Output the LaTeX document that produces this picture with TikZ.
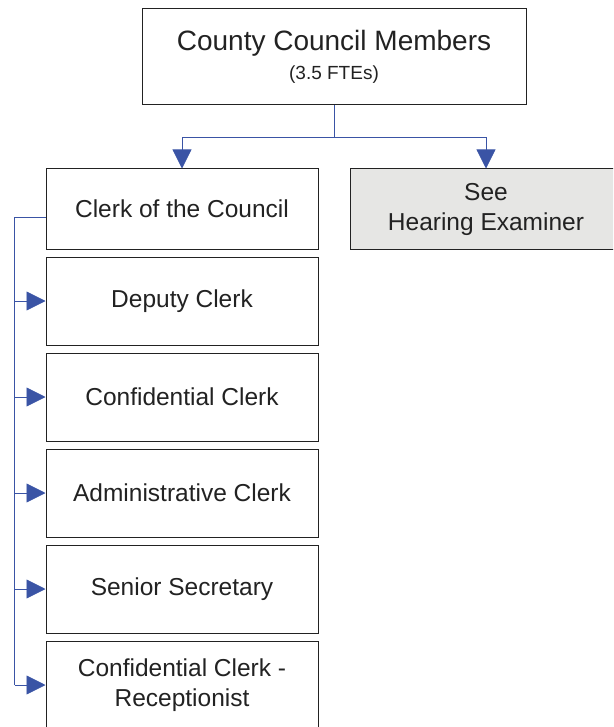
\documentclass[tikz,border=0pt]{standalone}
\usepackage{fontspec}
\setmainfont{Liberation Sans}
\usetikzlibrary{arrows.meta,positioning}
\definecolor{LinkBlue}{HTML}{3A54A5}
\definecolor{PanelGray}{HTML}{E6E6E4}
\definecolor{InkGray}{HTML}{222222}

\begin{document}
\begin{tikzpicture}[
  x=1pt,y=1pt,
  node distance=7pt,
  every node/.style={align=center,text=InkGray,inner sep=0pt},
  box/.style={draw=InkGray,line width=1pt,fill=white,minimum width=272pt,minimum height=88pt,font=\fontsize{24.5}{30}\selectfont},
  headbox/.style={box,minimum width=384pt,minimum height=96pt,font=\fontsize{28}{29}\selectfont},
  link/.style={draw=LinkBlue,line width=0.8pt},
  arr/.style={link,-{Triangle[length=19pt,width=19pt]}}
]
\useasboundingbox (0,0) rectangle (613,-727);
\clip (0,0) rectangle (613,-727);
\node[headbox] (council) at (334,-57) {County Council Members\\{\fontsize{19}{23}\selectfont (3.5 FTEs)}};
\node[box,minimum height=80pt] (clerk) at (182,-209) {Clerk of the Council};
\node[box,fill=PanelGray,minimum height=80pt] (see) at (486,-209) {See\\Hearing Examiner};
\node[box,below=of clerk] (deputy) {Deputy Clerk};
\node[box,below=of deputy] (confidential) {Confidential Clerk};
\node[box,below=of confidential] (admin) {Administrative Clerk};
\node[box,below=of admin] (senior) {Senior Secretary};
\node[box,below=of senior] (recep) {Confidential Clerk -\\Receptionist};
% council to its two branches
\draw[link] (council.south) -- ++(0,-32) coordinate (split);
\draw[arr] (split) -| (clerk.north);
\draw[arr] (split) -| (see.north);
% clerk staff
\draw[link] ([yshift=-8pt]clerk.west) -- ++(-31,0) coordinate (spine) -- (spine |- recep.west);
\foreach \n in {deputy,confidential,admin,senior,recep}
  \draw[arr] (spine |- \n.west) -- (\n.west);
\end{tikzpicture}
\end{document}
